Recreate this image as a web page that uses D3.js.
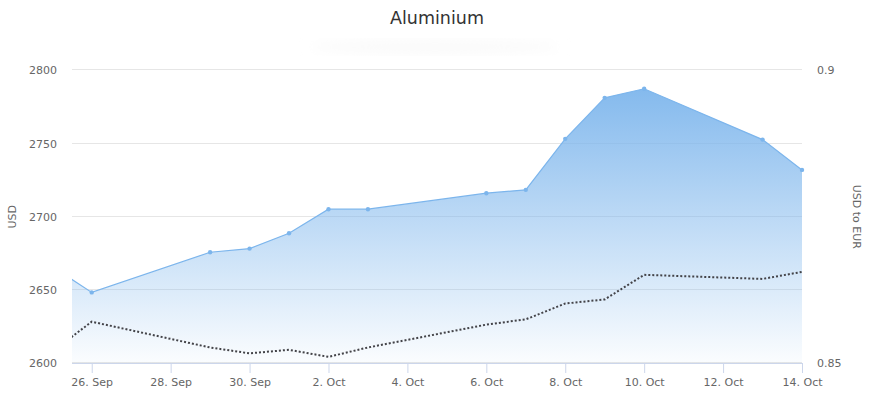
<!DOCTYPE html>
<html>
<head>
<meta charset="utf-8">
<script src="https://cdn.jsdelivr.net/npm/d3@7"></script>
<style>
  body { margin: 0; background: #fff; }
  text { font-family: "DejaVu Sans", sans-serif; }
</style>
</head>
<body>
<div id="chart"></div>
<script>
// data
var dates = ["2017-09-25", "2017-09-26", "2017-09-29", "2017-09-30", "2017-10-01", "2017-10-02", "2017-10-03",
             "2017-10-06", "2017-10-07", "2017-10-08", "2017-10-09", "2017-10-10", "2017-10-13", "2017-10-14"];
var aluminium = [2666, 2648.4, 2675.8, 2678.3, 2688.8, 2705.2, 2705.2, 2716.1, 2718.4, 2753.2, 2781.2, 2787.4, 2752.7, 2732];
var usdEur = [0.8520, 0.8571, 0.8527, 0.8517, 0.8523, 0.8511, 0.8527, 0.8566, 0.8575, 0.8602, 0.8609, 0.8651, 0.8644, 0.8656];
var leftTicks = [2600, 2650, 2700, 2750, 2800];
var rightTicks = [0.85, 0.9];
var xTicks = ["2017-09-26", "2017-09-28", "2017-09-30", "2017-10-02", "2017-10-04", "2017-10-06",
              "2017-10-08", "2017-10-10", "2017-10-12", "2017-10-14"];

var W = 875, H = 399;
var plot = {left: 72, right: 802, top: 70.3, bottom: 363.3};

var parse = d3.timeParse("%Y-%m-%d");
var rows = dates.map(function(d, i) {
  return {date: parse(d), al: aluminium[i], fx: usdEur[i]};
});

var x = d3.scaleTime()
  .domain([d3.timeHour.offset(parse("2017-09-26"), -12), parse("2017-10-14")])
  .range([plot.left, plot.right]);
var yL = d3.scaleLinear().domain([2600, 2800]).range([plot.bottom, plot.top]);
var yR = d3.scaleLinear().domain([0.85, 0.9]).range([plot.bottom, plot.top]);

var svg = d3.select("#chart").append("svg")
  .attr("width", W)
  .attr("height", H);

var defs = svg.append("defs");
var grad = defs.append("linearGradient")
  .attr("id", "areaFill")
  .attr("gradientUnits", "userSpaceOnUse")
  .attr("x1", 0).attr("x2", 0)
  .attr("y1", yL(2790)).attr("y2", plot.bottom);
grad.append("stop").attr("offset", 0).attr("stop-color", "#7cb5ec").attr("stop-opacity", 0.95);
grad.append("stop").attr("offset", 1).attr("stop-color", "#7cb5ec").attr("stop-opacity", 0.03);

defs.append("clipPath").attr("id", "plotClip")
  .append("rect")
  .attr("x", plot.left).attr("y", 0)
  .attr("width", plot.right - plot.left).attr("height", plot.bottom);

var blur = defs.append("filter").attr("id", "soft");
blur.append("feGaussianBlur").attr("stdDeviation", 6);

// title
svg.append("ellipse")
  .attr("cx", 435).attr("cy", 47).attr("rx", 125).attr("ry", 7)
  .attr("fill", "#fafafa")
  .attr("filter", "url(#soft)");
svg.append("text")
  .attr("x", (plot.left + plot.right) / 2)
  .attr("y", 24)
  .attr("text-anchor", "middle")
  .attr("font-size", "17.5px")
  .attr("fill", "#333333")
  .text("Aluminium");

// grid lines
svg.append("g")
  .selectAll("line")
  .data(leftTicks)
  .enter()
  .append("line")
    .attr("x1", plot.left)
    .attr("x2", plot.right)
    .attr("y1", function(d) { return Math.round(yL(d)) - 0.5; })
    .attr("y2", function(d) { return Math.round(yL(d)) - 0.5; })
    .attr("stroke", "#e6e6e6")
    .attr("stroke-width", 1);

// area series
var area = d3.area()
  .x(function(d) { return x(d.date); })
  .y0(plot.bottom)
  .y1(function(d) { return yL(d.al); });
var line = d3.line()
  .x(function(d) { return x(d.date); })
  .y(function(d) { return yL(d.al); });

var g = svg.append("g").attr("clip-path", "url(#plotClip)");
g.append("path")
  .datum(rows)
  .attr("d", area)
  .attr("fill", "url(#areaFill)");
g.append("path")
  .datum(rows)
  .attr("d", line)
  .attr("fill", "none")
  .attr("stroke", "#7cb5ec")
  .attr("stroke-width", 1.2);

// dotted exchange rate line
var fxLine = d3.line()
  .x(function(d) { return x(d.date); })
  .y(function(d) { return yR(d.fx); });
g.append("path")
  .datum(rows)
  .attr("d", fxLine)
  .attr("fill", "none")
  .attr("stroke", "#434348")
  .attr("stroke-width", 2)
  .attr("stroke-dasharray", "2,2");

// markers
svg.append("g")
  .selectAll("circle")
  .data(rows.filter(function(d) { return x(d.date) >= plot.left; }))
  .enter()
  .append("circle")
    .attr("cx", function(d) { return x(d.date); })
    .attr("cy", function(d) { return yL(d.al); })
    .attr("r", 2.2)
    .attr("fill", "#7cb5ec");

// x axis
var xAxis = d3.axisBottom(x)
  .tickValues(xTicks.map(parse))
  .tickSize(10)
  .tickPadding(5)
  .tickFormat(d3.timeFormat("%-d. %b"));
var gx = svg.append("g")
  .attr("transform", "translate(0," + Math.round(plot.bottom) + ")")
  .call(xAxis);
gx.select(".domain").attr("stroke", "#ccd6eb").attr("d", "M" + plot.left + ",0.5H" + plot.right);
gx.selectAll(".tick line").attr("stroke", "#ccd6eb");
gx.selectAll(".tick text").attr("fill", "#666666").attr("font-size", "11px").attr("font-family", "DejaVu Sans");

// left axis
var yAxisL = d3.axisLeft(yL).tickValues(leftTicks).tickSize(0).tickPadding(15)
  .tickFormat(d3.format("d"));
var gl = svg.append("g").attr("transform", "translate(" + plot.left + ",0)").call(yAxisL);
gl.select(".domain").remove();
gl.selectAll(".tick text").attr("fill", "#666666").attr("font-size", "11px").attr("font-family", "DejaVu Sans");

// right axis
var yAxisR = d3.axisRight(yR).tickValues(rightTicks).tickSize(0).tickPadding(15)
  .tickFormat(d3.format("~g"));
var gr = svg.append("g").attr("transform", "translate(" + plot.right + ",0)").call(yAxisR);
gr.select(".domain").remove();
gr.selectAll(".tick text").attr("fill", "#666666").attr("font-size", "11px").attr("font-family", "DejaVu Sans");

// axis titles
svg.append("text")
  .attr("transform", "translate(16," + (plot.top + plot.bottom) / 2 + ") rotate(-90)")
  .attr("text-anchor", "middle")
  .attr("font-size", "11px")
  .attr("fill", "#666666")
  .text("USD");
svg.append("text")
  .attr("transform", "translate(853," + (plot.top + plot.bottom) / 2 + ") rotate(90)")
  .attr("text-anchor", "middle")
  .attr("font-size", "11px")
  .attr("fill", "#666666")
  .text("USD to EUR");
</script>
</body>
</html>
